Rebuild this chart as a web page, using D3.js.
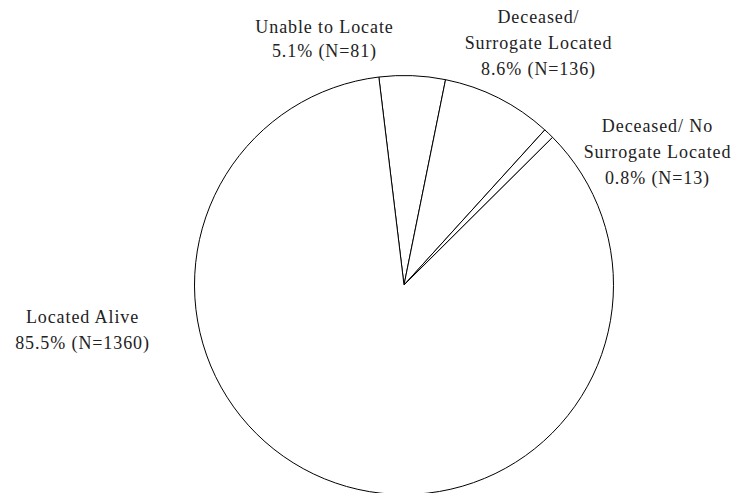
<!DOCTYPE html>
<html><head><meta charset="utf-8">
<script src="https://cdn.jsdelivr.net/npm/d3@7"></script>
<style>body{margin:0;background:#fff}svg{display:block}</style>
</head><body>
<svg id="c" width="733" height="493"></svg>
<script>
const categories = ["Unable to Locate", "Deceased/ Surrogate Located", "Deceased/ No Surrogate Located", "Located Alive"];
const counts = [81, 136, 13, 1360];
const percents = ["5.1%", "8.6%", "0.8%", "85.5%"];
const labelLines = [
  ["Unable to Locate"],
  ["Deceased/", "Surrogate Located"],
  ["Deceased/ No", "Surrogate Located"],
  ["Located Alive"]
];

const svg = d3.select("#c");
const cx = 404, cy = 285, R = 209.5;
const start = -6.9 * Math.PI / 180;
const pie = d3.pie().sort(null).value(d => d).startAngle(start).endAngle(start + 2 * Math.PI);
const arc = d3.arc().innerRadius(0).outerRadius(R);
const g = svg.append("g").attr("transform", `translate(${cx},${cy})`);
g.selectAll("path").data(pie(counts)).join("path")
  .attr("d", arc).attr("fill", "#fff").attr("stroke", "#000").attr("stroke-width", 1);

// label layout (centre x, first baseline y)
const labelPos = [[324, 32.5], [538, 23], [657, 131.5], [82, 323]];
const lineH = 26;
labelLines.forEach((lines, i) => {
  const all = lines.concat([`${percents[i]} (N=${counts[i]})`]);
  const t = svg.append("text")
    .style("font-family", '"Liberation Serif"')
    .style("font-size", "18px").style("letter-spacing", "0.9px")
    .attr("text-anchor", "middle").attr("fill", "#222");
  all.forEach((s, j) => {
    t.append("tspan").attr("x", labelPos[i][0] + 0.5).attr("y", labelPos[i][1] + j * (i === 0 ? 24 : lineH)).text(s);
  });
});
</script>
</body></html>
